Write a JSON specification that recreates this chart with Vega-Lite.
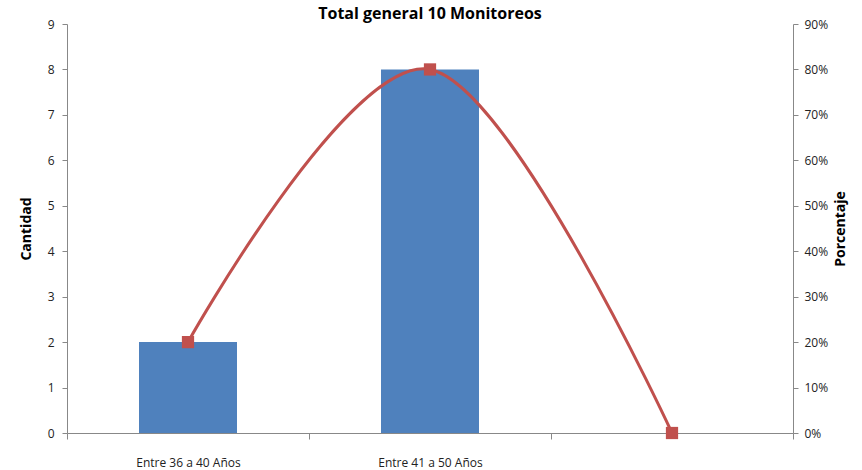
{
  "$schema": "https://vega.github.io/schema/vega-lite/v6.json",
  "autosize": "none",
  "width": 726,
  "height": 409,
  "padding": {"left": 67, "top": 24, "right": 69, "bottom": 37},
  "background": "white",
  "title": {"text": "Total general  10 Monitoreos", "font": "Open Sans", "fontSize": 16, "fontWeight": "bold", "color": "#000000", "offset": -20, "baseline": "bottom"},
  "config": {"view": {"stroke": null}, "axis": {"grid": false, "domainColor": "#888888", "tickColor": "#888888", "labelFont": "Open Sans", "labelColor": "#222222", "titleFont": "Open Sans", "titleColor": "#000000"}},
  "data": {"values": [
    {"Rango": "Entre 36 a 40 Años", "Cantidad": 2, "Porcentaje": 0.2},
    {"Rango": "Entre 41 a 50 Años", "Cantidad": 8, "Porcentaje": 0.8},
    {"Rango": " ", "Cantidad": 0, "Porcentaje": 0}
  ]},
  "encoding": {
    "x": {"field": "Rango", "type": "nominal", "sort": null, "scale": {"paddingInner": 0, "paddingOuter": 0},
      "axis": {"title": null, "labelAngle": 0, "tickBand": "extent", "tickSize": 6, "labelPadding": 18, "labelFontSize": 12, "domainColor": "#888888"}}
  },
  "layer": [
    {
      "mark": {"type": "bar", "color": "#4F81BD", "size": 98},
      "encoding": {
        "y": {"field": "Cantidad", "type": "quantitative", "scale": {"domain": [0, 9]},
          "axis": {"title": "Cantidad", "values": [0,1,2,3,4,5,6,7,8,9], "tickSize": 5, "labelPadding": 8, "labelFontSize": 12, "titleFontSize": 14, "titleFontWeight": "bold", "titlePadding": 14}}
      }
    },
    {
      "mark": {"type": "line", "color": "#C0504D", "strokeWidth": 3, "interpolate": "cardinal"},
      "encoding": {
        "y": {"field": "Porcentaje", "type": "quantitative", "scale": {"domain": [0, 0.9]},
          "axis": {"title": "Porcentaje", "orient": "right", "format": ".0%", "values": [0,0.1,0.2,0.3,0.4,0.5,0.6,0.7,0.8,0.9], "tickSize": 5, "labelPadding": 6, "labelFontSize": 12, "titleFontSize": 14, "titleFontWeight": "bold", "titleAngle": 270, "titlePadding": 20}}
      }
    },
    {
      "mark": {"type": "point", "shape": "square", "filled": true, "color": "#C0504D", "size": 150, "opacity": 1},
      "encoding": {
        "y": {"field": "Porcentaje", "type": "quantitative", "scale": {"domain": [0, 0.9]}, "axis": null}
      }
    }
  ],
  "resolve": {"scale": {"y": "independent"}}
}
